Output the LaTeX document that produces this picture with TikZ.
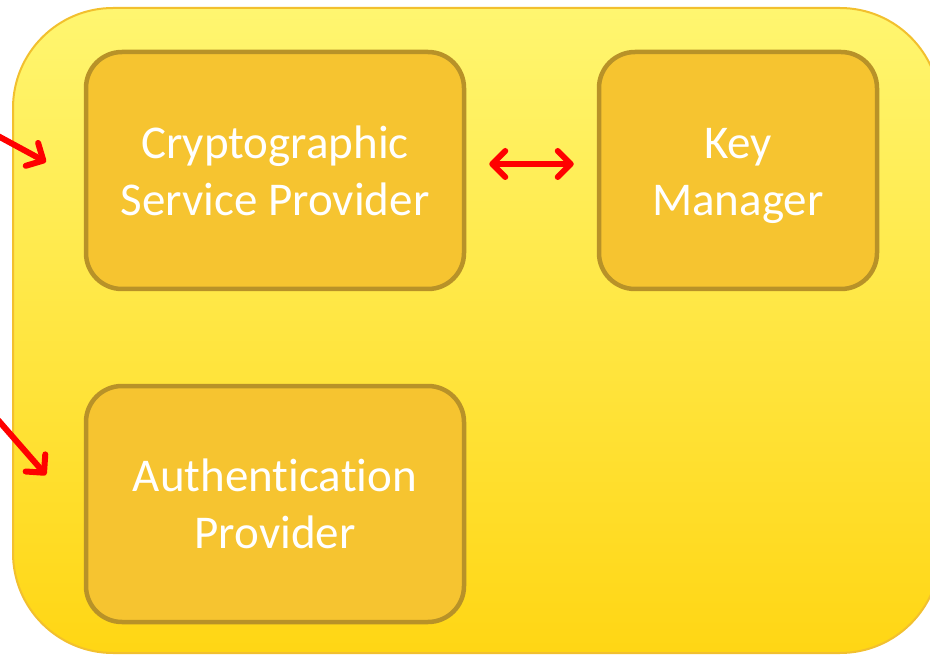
\documentclass[tikz,border=0pt]{standalone}
\usepackage{fontspec}
\setmainfont[Ligatures={NoCommon}]{Carlito}
\usetikzlibrary{arrows.meta}
\definecolor{bgtop}{RGB}{255,246,112}
\definecolor{bgbot}{RGB}{255,214,20}
\definecolor{bgedge}{RGB}{242,192,46}
\definecolor{boxfill}{RGB}{246,196,48}
\definecolor{boxedge}{RGB}{184,146,40}
\definecolor{arrred}{RGB}{255,0,0}
\tikzset{
  comp/.style={draw=boxedge, line width=4.5pt, fill=boxfill, rounded corners=36pt,
    text=white, font=\fontsize{47}{57}\selectfont, align=center, inner sep=0pt},
  barb/.tip={Straight Barb[round, length=13pt, width=26pt, line width=6pt]},
  redarrow/.style={draw=arrred, line width=6pt, line cap=round, -barb},
  redboth/.style={draw=arrred, line width=6pt, line cap=round, barb-barb}
}
\begin{document}
\begin{tikzpicture}[x=1pt,y=-1pt]
\useasboundingbox (0,0) rectangle (930,655);
\begin{scope}
\clip (0,0) rectangle (930,655);
\shade[top color=bgtop, bottom color=bgbot, draw=bgedge, line width=2pt, rounded corners=100pt]
  (13,8) rectangle (940,653);
\end{scope}
\node[comp, minimum width=378pt, minimum height=237pt] (csp) at (275,170.5) {Cryptographic\\Service Provider};
\node[comp, minimum width=278pt, minimum height=237pt] (km) at (738,170.5) {\vphantom{h}Key\\\smash{Manager}};
\node[comp, minimum width=378pt, minimum height=236pt] (ap) at (275,504) {Authentication\\Provider};
\coordinate (in1s) at (-2,136);
\coordinate (in1e) at (46,162);
\coordinate (in2s) at (-2,420);
\coordinate (in2e) at (46,475);
\draw[redarrow] (in1s) -- (in1e);
\draw[redarrow] (in2s) -- (in2e);
\draw[redboth] ([xshift=23pt,yshift=6.5pt]csp.east) -- ([xshift=-23pt,yshift=6.5pt]km.west);
\end{tikzpicture}
\end{document}
